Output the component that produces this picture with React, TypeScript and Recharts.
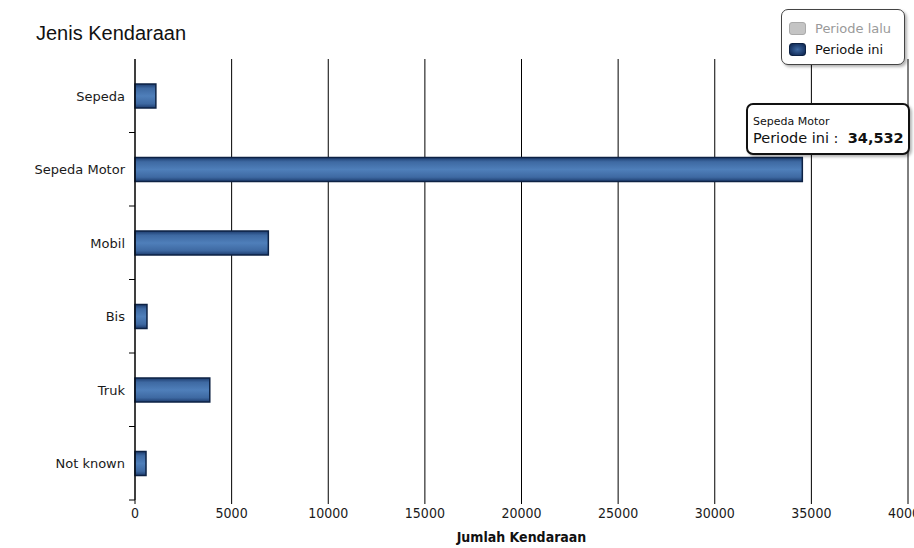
import React from 'react';
import { BarChart, Bar, XAxis, YAxis, CartesianGrid, Tooltip, Legend } from 'recharts';

const categories = ['Sepeda', 'Sepeda Motor', 'Mobil', 'Bis', 'Truk', 'Not known'];
const periodeIni = [1080, 34532, 6900, 620, 3870, 570];
const seriesNames = ['Periode lalu', 'Periode ini'];
const xTicks = [0, 5000, 10000, 15000, 20000, 25000, 30000, 35000, 40000];

const data = categories.map((name, i) => ({ name, periodeIni: periodeIni[i] }));

const PLOT_TOP = 59;
const PLOT_BOTTOM = 500;
const HALF_BAND = (PLOT_BOTTOM - PLOT_TOP) / categories.length / 2;

const labelFont = '"DejaVu Sans", Verdana, sans-serif';
const axisFont = '"DejaVu Sans Condensed", "DejaVu Sans", sans-serif';

// category label plus a tick mark at the band boundary below it
const CategoryTick = (props: any) => {
  const { x, y, payload } = props;
  return (
    <g>
      <text x={x} y={y} dy={5} textAnchor="end" fontSize={13} fontFamily={labelFont} fill="#1a1a1a">
        {payload.value}
      </text>
      <line x1={x + 4} x2={x + 10} y1={y + HALF_BAND} y2={y + HALF_BAND} stroke="#000" />
    </g>
  );
};

const LegendBox = () => (
  <div
    style={{
      width: 124,
      height: 56,
      border: '1.5px solid #444',
      borderRadius: 7,
      background: '#fff',
      boxShadow: '2px 2px 3px rgba(0,0,0,0.3)',
      fontFamily: labelFont,
      fontSize: 13,
      padding: '8px 0 0 7px',
      boxSizing: 'border-box',
    }}
  >
    {seriesNames.map((s, i) => (
      <div key={s} style={{ display: 'flex', alignItems: 'center', height: 21 }}>
        <span
          style={{
            display: 'inline-block',
            width: 17,
            height: 13,
            borderRadius: 3,
            marginRight: 9,
            background: i === 0 ? '#c4c4c4' : 'radial-gradient(ellipse at center, #3f6aa3 0%, #1a3766 70%, #0d2244 100%)',
            border: i === 0 ? '1px solid #aaa' : '1px solid #0d2244',
            boxSizing: 'border-box',
          }}
        />
        <span style={{ color: i === 0 ? '#9a9a9a' : '#111' }}>{s}</span>
      </div>
    ))}
  </div>
);

const TooltipBox = ({ active, payload }: any) => {
  if (!active || !payload || !payload.length) return null;
  const p = payload[0];
  return (
    <div
      style={{
        width: 164,
        height: 52,
        border: '2px solid #111',
        borderRadius: 7,
        background: '#fff',
        boxShadow: '2px 2px 3px rgba(0,0,0,0.3)',
        fontFamily: labelFont,
        padding: '10px 0 0 5px',
        boxSizing: 'border-box',
        color: '#111',
      }}
    >
      <div style={{ fontSize: 11, lineHeight: '13px' }}>{p.payload.name}</div>
      <div style={{ fontSize: 14.5, lineHeight: '20px' }}>
        {seriesNames[1]} :&nbsp; <b>{Number(p.value).toLocaleString('en-US')}</b>
      </div>
    </div>
  );
};

export default function App() {
  return (
    <div style={{ position: 'absolute', left: 0, top: 0, width: 914, height: 548, overflow: 'hidden', background: '#fff' }}>
      <div
        style={{
          position: 'absolute',
          left: 36,
          top: 22,
          fontFamily: '"Liberation Sans", Arial, sans-serif',
          fontSize: 20,
          lineHeight: '22px',
          color: '#111',
          zIndex: 2,
        }}
      >
        Jenis Kendaraan
      </div>
      <BarChart
        width={930}
        height={548}
        data={data}
        layout="vertical"
        margin={{ top: PLOT_TOP, right: 22, bottom: 3, left: 0 }}
        barSize={24}
      >
        <defs>
          <linearGradient id="barFill" x1="0" y1="0" x2="0" y2="1">
            <stop offset="0%" stopColor="#1d3c6e" />
            <stop offset="18%" stopColor="#3e69a2" />
            <stop offset="50%" stopColor="#4f7fba" />
            <stop offset="82%" stopColor="#3e69a2" />
            <stop offset="100%" stopColor="#1d3c6e" />
          </linearGradient>
        </defs>
        <CartesianGrid horizontal={false} stroke="#000" strokeWidth={1} />
        <XAxis
          type="number"
          domain={[0, 40000]}
          ticks={xTicks}
          interval={0}
          height={45}
          axisLine={false}
          tickLine={{ stroke: '#000' }}
          tickSize={4}
          tickMargin={4}
          tick={{ fontSize: 14, fontFamily: axisFont, fill: '#1a1a1a' }}
          label={{
            value: 'Jumlah Kendaraan',
            position: 'insideBottom',
            offset: 3,
            fontSize: 14,
            fontWeight: 'bold',
            fontFamily: axisFont,
            fill: '#111',
          }}
        />
        <YAxis
          type="category"
          dataKey="name"
          width={135}
          axisLine={{ stroke: '#000' }}
          tickLine={false}
          tickSize={6}
          tickMargin={4}
          interval={0}
          tick={<CategoryTick />}
        />
        <Tooltip
          active
          defaultIndex={1}
          position={{ x: 746, y: 103 }}
          cursor={false}
          content={<TooltipBox />}
          isAnimationActive={false}
        />
        <Legend
          layout="vertical"
          align="center"
          verticalAlign="middle"
          wrapperStyle={{ top: 9, left: 781, width: 127 }}
          content={<LegendBox />}
        />
        <Bar
          dataKey="periodeIni"
          name={seriesNames[1]}
          fill="url(#barFill)"
          stroke="#0d2244"
          strokeWidth={1.5}
          isAnimationActive={false}
        />
      </BarChart>
    </div>
  );
}
